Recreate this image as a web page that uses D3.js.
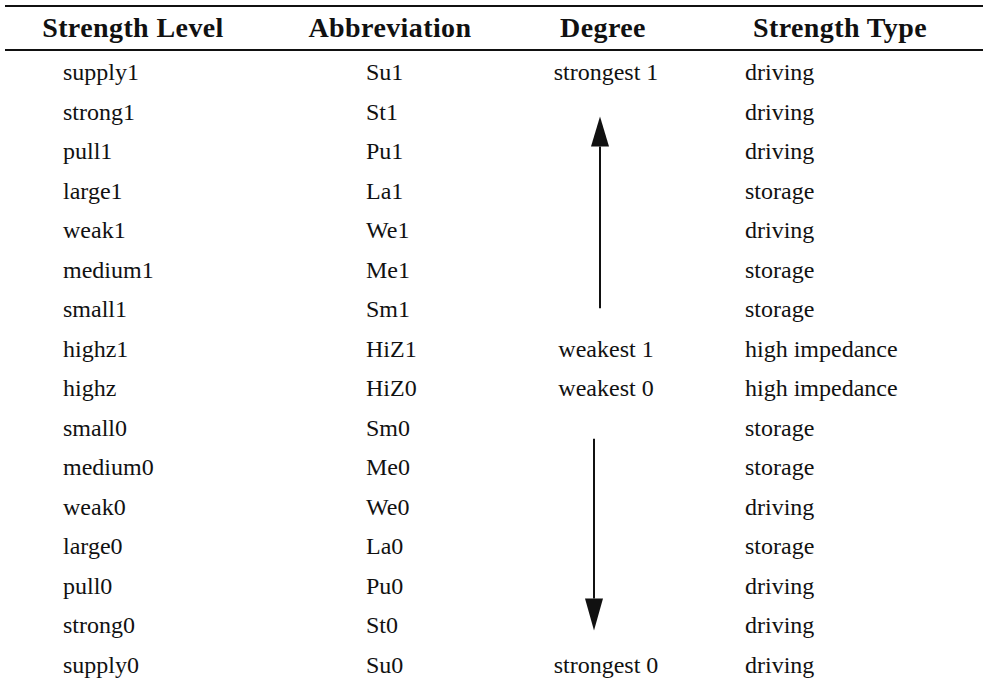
<!DOCTYPE html>
<html>
<head>
<meta charset="utf-8">
<script src="https://cdn.jsdelivr.net/npm/d3@7/dist/d3.min.js"></script>
<style>
  html, body { margin: 0; padding: 0; background: #fff; }
  svg { display: block; }
  text { font-family: "Liberation Serif", "DejaVu Serif", serif; fill: #111; }
</style>
</head>
<body>
<svg id="chart" width="983" height="684"></svg>
<script>
// ---- data ----
const headers = ["Strength Level", "Abbreviation", "Degree", "Strength Type"];
const levels = ["supply1","strong1","pull1","large1","weak1","medium1","small1","highz1",
                "highz","small0","medium0","weak0","large0","pull0","strong0","supply0"];
const abbreviations = ["Su1","St1","Pu1","La1","We1","Me1","Sm1","HiZ1",
                       "HiZ0","Sm0","Me0","We0","La0","Pu0","St0","Su0"];
const degrees = ["strongest 1","","","","","","","weakest 1",
                 "weakest 0","","","","","","","strongest 0"];
const types = ["driving","driving","driving","storage","driving","storage","storage","high impedance",
               "high impedance","storage","storage","driving","storage","driving","driving","driving"];
// arrows: [tail row, head row]
const arrows = [["small1","strong1"],["small0","strong0"]];

// ---- layout ----
const W = 983, H = 684;
const svg = d3.select("#chart");

const y = d3.scalePoint().domain(levels).range([80, 673]);   // text baselines
const colX = d3.scaleOrdinal().domain(headers).range([63, 366, 606, 745]);     // body text x
const headX = d3.scaleOrdinal().domain(headers).range([133, 390, 603, 840]);   // header centres
const colAnchor = d3.scaleOrdinal().domain(headers).range(["start","start","middle","start"]);

// rules
[6, 50].forEach(ry => {
  svg.append("line").attr("x1", 5).attr("x2", W).attr("y1", ry).attr("y2", ry)
    .attr("stroke", "#111").attr("stroke-width", 2);
});

// headers
svg.selectAll("text.head").data(headers).join("text")
  .attr("class", "head")
  .attr("x", d => headX(d)).attr("y", 37)
  .attr("text-anchor", "middle")
  .attr("font-size", 28).attr("font-weight", "bold")
  .attr("letter-spacing", 0.4)
  .text(d => d);

// body
const cols = [levels, abbreviations, degrees, types];
cols.forEach((arr, ci) => {
  const h = headers[ci];
  svg.selectAll("text.c" + ci)
    .data(arr.map((v, i) => ({v, row: levels[i]})).filter(d => d.v !== ""))
    .join("text")
    .attr("class", "c" + ci)
    .attr("x", colX(h)).attr("y", d => y(d.row))
    .attr("text-anchor", colAnchor(h))
    .attr("font-size", 24)
    .text(d => d.v);
});

// arrows
const ax = [600, 594];
arrows.forEach(([from, to], i) => {
  const up = y(to) < y(from);
  const x = ax[i];
  const tip = y(to) - 3;
  const base = up ? tip + 30 : tip - 32;
  const tail = up ? y(from) - 9 : y(from) + 3;
  svg.append("line").attr("x1", x).attr("x2", x).attr("y1", tail).attr("y2", base)
    .attr("stroke", "#111").attr("stroke-width", 2);
  svg.append("path")
    .attr("d", `M${x},${tip} L${x - 9},${base} L${x + 9},${base} Z`)
    .attr("fill", "#111");
});
</script>
</body>
</html>
